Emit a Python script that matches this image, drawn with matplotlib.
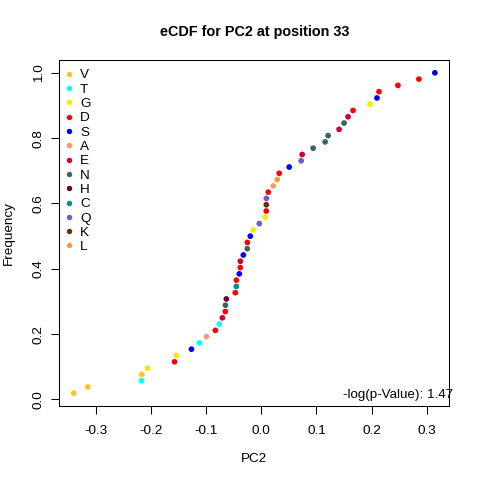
import matplotlib
matplotlib.use('Agg')
import matplotlib.pyplot as plt
from matplotlib.lines import Line2D
import numpy as np

plt.rcParams['font.family'] = ['Liberation Sans', 'DejaVu Sans']

# amino acid legend and colours
residues = ['V', 'T', 'G', 'D', 'S', 'A', 'E', 'N', 'H', 'C', 'Q', 'K', 'L']
res_colors = ['#FFC125', '#00FFFF', '#EEEE00', '#FF0000', '#0000FF', '#FF9966',
              '#CD0033', '#336666', '#660033', '#008B8B', '#6A5ACD', '#663300', '#FF9933']

# PC2 values (sorted) and the residue of each observation
pc2 = [-0.3398, -0.3145, -0.2170, -0.2165, -0.2060, -0.1572, -0.1536, -0.1265,
       -0.1121, -0.0994, -0.0831, -0.0759, -0.0705, -0.0652, -0.0650, -0.0633,
       -0.0470, -0.0452, -0.0451, -0.0398, -0.0381, -0.0379, -0.0325, -0.0253,
       -0.0252, -0.0199, -0.0145, -0.0036, 0.0072, 0.0090, 0.0091, 0.0092,
       0.0127, 0.0217, 0.0289, 0.0325, 0.0506, 0.0723, 0.0741, 0.0940,
       0.1157, 0.1211, 0.1410, 0.1500, 0.1572, 0.1663, 0.1970, 0.2096,
       0.2133, 0.2476, 0.2856, 0.3145]
pc2_res = ['V', 'V', 'T', 'V', 'G', 'D', 'G', 'S', 'T', 'A', 'D', 'T', 'E',
           'D', 'N', 'H', 'D', 'C', 'D', 'S', 'D', 'E', 'S', 'N', 'D', 'S',
           'G', 'Q', 'G', 'D', 'K', 'Q', 'D', 'A', 'L', 'D', 'S', 'Q', 'E',
           'N', 'N', 'N', 'E', 'N', 'E', 'D', 'G', 'S', 'D', 'D', 'D', 'S']
pvalue_text = '-log(p-Value): 1.47'

x = np.sort(np.array(pc2))
n = len(x)
y = np.arange(1, n + 1) / n
cmap = dict(zip(residues, res_colors))
cols = [cmap[r] for r in pc2_res]

fig = plt.figure(figsize=(4.8, 4.8), dpi=100)
ax = fig.add_axes([59.3 / 480, 1 - 406 / 480, 390 / 480, 346 / 480])

ax.scatter(x, y, s=17, c=cols, edgecolors='none', zorder=3)

xr = x.max() - x.min()
ax.set_xlim(x.min() - 0.04 * xr, x.max() + 0.04 * xr)
yr = 1 - 1 / n
ax.set_ylim(1 / n - 0.04 * yr, 1 + 0.04 * yr)

ax.set_xticks([-0.3, -0.2, -0.1, 0.0, 0.1, 0.2, 0.3])
ax.set_xticklabels(['-0.3', '-0.2', '-0.1', '0.0', '0.1', '0.2', '0.3'])
ax.set_yticks([0.0, 0.2, 0.4, 0.6, 0.8, 1.0])
ax.set_yticklabels(['0.0', '0.2', '0.4', '0.6', '0.8', '1.0'], rotation=90, va='center')
ax.tick_params(direction='out', length=5.5, width=0.75, labelsize=9.7)
ax.tick_params(axis='x', pad=8.3)
ax.tick_params(axis='y', pad=5)
for sp in ax.spines.values():
    sp.set_linewidth(0.75)

ax.set_xlabel('PC2', fontsize=9.7)
ax.xaxis.set_label_coords(0.5, -0.1356)
ax.set_ylabel('Frequency', fontsize=9.7)
ax.yaxis.set_label_coords(-0.1136, 0.5)
ax.set_title('eCDF for PC2 at position 33', fontsize=10.4, fontweight='bold', pad=17)

ax.text(1.0103, 0.024, pvalue_text, transform=ax.transAxes, ha='right', va='baseline',
        fontsize=9.6)

handles = [Line2D([], [], marker='o', linestyle='none', markersize=3.9,
                  markerfacecolor=c, markeredgecolor='none') for c in res_colors]
ax.legend(handles, residues, loc='upper left', bbox_to_anchor=(0, 1 - 2.5 / 346),
          frameon=False, fontsize=9.7, labelspacing=0.14, handlelength=0.52,
          handletextpad=0.55, borderaxespad=0, borderpad=0.48)

fig.savefig('out.png', dpi=100)
